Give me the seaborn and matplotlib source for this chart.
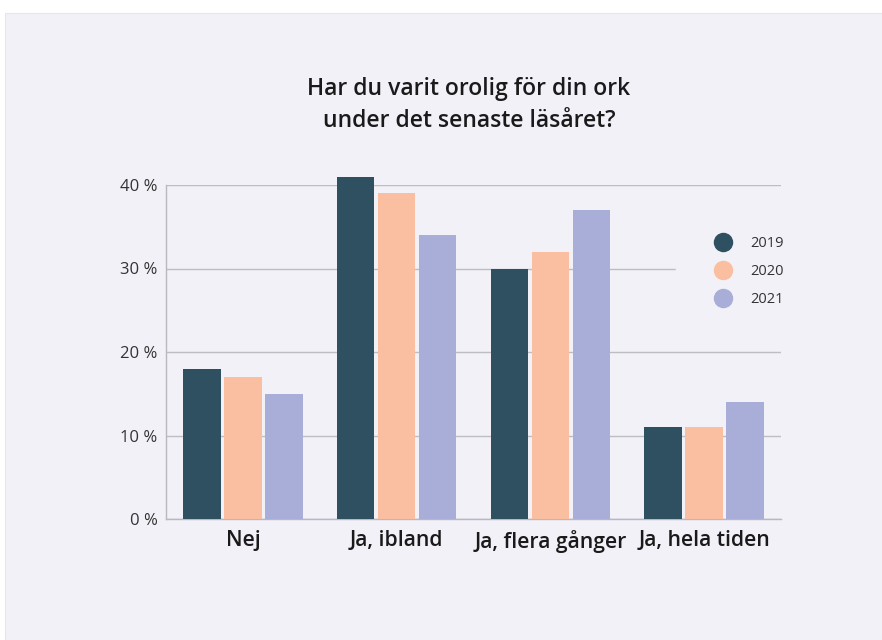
import matplotlib
matplotlib.use("Agg")
import matplotlib.pyplot as plt
from matplotlib.patches import Rectangle
from matplotlib.lines import Line2D
import seaborn as sns
import pandas as pd

categories = ["Nej", "Ja, ibland", "Ja, flera gånger", "Ja, hela tiden"]
years = ["2019", "2020", "2021"]
values_2019 = [18, 41, 30, 11]
values_2020 = [17, 39, 32, 11]
values_2021 = [15, 34, 37, 14]
yticks = [0, 10, 20, 30, 40]
ytick_labels = ["0 %", "10 %", "20 %", "30 %", "40 %"]
title = "Har du varit orolig för din ork\nunder det senaste läsåret?"

colors = ["#2F5061", "#F9BFA0", "#A9AED8"]
panel = "#F2F1F8"

rows = []
for yr, vals in zip(years, [values_2019, values_2020, values_2021]):
    for c, v in zip(categories, vals):
        rows.append({"kategori": c, "år": yr, "värde": v})
df = pd.DataFrame(rows)

sns.set_theme(style="white")
plt.rcParams["font.family"] = ["Open Sans", "DejaVu Sans"]

fig = plt.figure(figsize=(8.82, 6.4), dpi=100)
fig.patch.set_facecolor("white")
fig.add_artist(Rectangle((5 / 882, 0), 1 - 5 / 882, 1 - 13 / 640,
                         transform=fig.transFigure, facecolor=panel,
                         edgecolor="#E6E5EE", linewidth=0.8, zorder=0))

ax = fig.add_axes([166 / 882, 121 / 640, 615 / 882, (519 - 185) / 640])
ax.set_facecolor(panel)
ax.patch.set_alpha(0)

sns.barplot(data=df, x="kategori", y="värde", hue="år", order=categories,
            hue_order=years, palette=colors, width=0.8, gap=0.08,
            linewidth=0, saturation=1, ax=ax, legend=False, zorder=3)
for p in ax.patches:
    p.set_clip_on(False)

ax.set_ylim(0, 40)
ax.set_yticks(yticks)
ax.set_yticklabels(ytick_labels, fontsize=12, color="#333333")
ax.set_xlabel("")
ax.set_ylabel("")
ax.tick_params(axis="y", length=0, pad=6)
ax.tick_params(axis="x", length=0, pad=8)
for lab in ax.get_xticklabels():
    lab.set_fontsize(15.2)
    lab.set_color("#1a1a1a")
    lab.set_fontweight("semibold")

ax.yaxis.grid(True, color="#BDBDC4", linewidth=1, zorder=0)
ax.set_axisbelow(True)
for s in ["top", "right"]:
    ax.spines[s].set_visible(False)
for s in ["left", "bottom"]:
    ax.spines[s].set_color("#B8B8C0")
    ax.spines[s].set_linewidth(1)

handles = [Line2D([0], [0], marker="o", linestyle="", markersize=13,
                  markerfacecolor=c, markeredgecolor=c) for c in colors]
leg = fig.legend(handles, years, loc="upper left",
                 bbox_to_anchor=(676 / 882, 1 - 204 / 640),
                 frameon=True, facecolor=panel, edgecolor=panel,
                 fontsize=10.5, labelspacing=0.9, handletextpad=0.86,
                 borderpad=2.2, borderaxespad=0, framealpha=1,
                 labelcolor="#333333", handlelength=2.0)
leg.set_zorder(5)

fig.text(469 / 882, 1 - 105 / 640, title, ha="center", va="center",
         fontsize=16.5, color="#1a1a1a", linespacing=1.4,
         fontweight="semibold")

fig.savefig("out.png", dpi=100, facecolor=fig.get_facecolor())
